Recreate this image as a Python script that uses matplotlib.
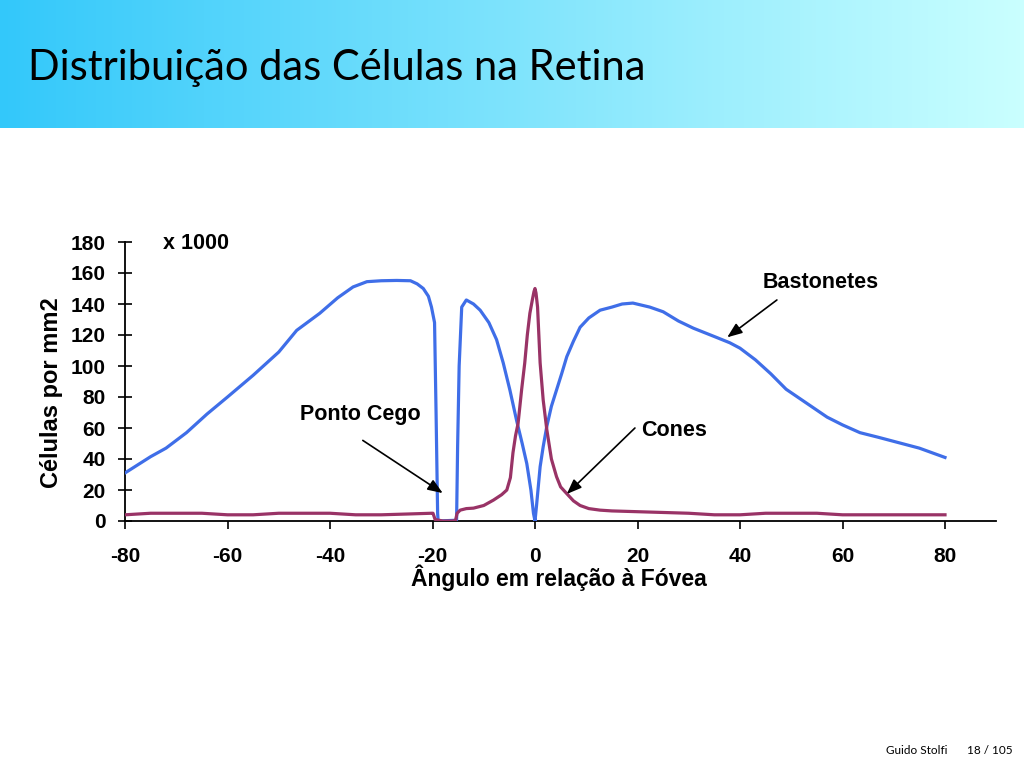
import numpy as np
import matplotlib
matplotlib.use("Agg")
import matplotlib.pyplot as plt

plt.rcParams["axes.unicode_minus"] = False

# ---- data (x 1000 cells per mm2) ----
rods_x = [-80, -75, -72, -68, -64, -60, -55, -50, -46.5, -42, -38.5, -35.5, -32.8, -30, -27,
          -24.3, -23, -21.8, -20.8, -20.2, -19.6, -19.3, -19.0, -18.9, -15.3, -15.1, -14.8,
          -14.3, -13.4, -12, -10.7, -9, -7.5, -6.2, -4.9, -3.6, -2.5, -1.6, -0.8, -0.3, 0,
          0.3, 1, 1.6, 2.3, 3.2, 4.2, 5.2, 6.2, 7.5, 8.8, 10.5, 12.7, 15, 17, 19.1, 22.4,
          25, 28, 30.9, 35, 38, 40, 43, 46, 49, 53, 57, 60, 63.4, 67, 71, 75, 80]
rods_y = [31, 41.5, 47, 57, 69, 80, 94, 109, 123, 134, 144, 151, 154.4, 155, 155.2,
          155, 153, 150, 145, 138, 128, 69, 5, 0, 0.5, 48, 100,
          138, 142.6, 140, 136, 128, 117, 102, 84.5, 65, 50, 37, 20, 5, 0,
          10, 35, 48, 61, 74, 84.5, 95, 106, 116, 125, 131, 136, 138, 140, 140.6, 138,
          135, 129, 124.4, 119, 115, 111.5, 104, 95, 85, 76, 67, 62, 57, 54, 50.5, 47, 41]

cones_x = [-80, -75, -70, -65, -60, -55, -50, -45, -40, -35, -30, -25, -20.2, -19.9, -19.5,
           -18, -16, -15.5, -15.2, -14.6, -13.4, -12, -10, -8.1, -6.5, -5.5, -4.8, -4.3,
           -3.8, -3.3, -2.6, -2, -1.5, -1, -0.5, -0.2, 0, 0.2, 0.5, 1, 1.6, 2.3, 3.2, 4.2,
           5, 6.1, 7.5, 8.8, 10.5, 12.7, 15, 20, 25, 30, 35, 40, 45, 50, 55, 60, 65, 70,
           75, 80]
cones_y = [4, 5, 5, 5, 4, 4, 5, 5, 5, 4, 4, 4.5, 5, 5, 1,
           0, 0, 0.5, 5, 7, 8, 8.3, 10, 13.5, 17, 20, 28, 44,
           55, 63, 85, 102, 120, 134, 143, 148, 150, 147, 138, 102, 78, 59, 40, 28.6,
           22, 18, 13, 10, 8, 7, 6.5, 6, 5.5, 5, 4, 4, 5, 5, 5, 4, 4, 4,
           4, 4]

x_ticks = [-80, -60, -40, -20, 0, 20, 40, 60, 80]
y_ticks = [0, 20, 40, 60, 80, 100, 120, 140, 160, 180]

ROD_COLOR = "#3f6ee8"
CONE_COLOR = "#993366"
FONT = "Liberation Sans"

fig = plt.figure(figsize=(10.24, 7.68), dpi=100)
fig.patch.set_facecolor("white")

# ---- header band with gradient ----
hax = fig.add_axes([0, 1 - 128 / 768, 1, 128 / 768])
grad = np.linspace(0, 1, 256)
c0 = np.array([0x33, 0xC8, 0xFA]) / 255
c1 = np.array([0xCA, 0xFF, 0xFF]) / 255
img = c0[None, None, :] * (1 - grad[None, :, None]) + c1[None, None, :] * grad[None, :, None]
hax.imshow(img, aspect="auto", extent=[0, 1, 0, 1])
hax.set_axis_off()
hax.text(28 / 1024, 0.47, "Distribuição das Células na Retina", fontsize=30,
         family="Lato", color="black", va="center", ha="left", transform=hax.transAxes)

# ---- main chart ----
ax = fig.add_axes([125 / 1024, 1 - 521 / 768, 871.25 / 1024, 279 / 768])
ax.plot(rods_x, rods_y, color=ROD_COLOR, lw=2.3, solid_joinstyle="round", zorder=3)
ax.plot(cones_x, cones_y, color=CONE_COLOR, lw=2.3, solid_joinstyle="round", zorder=3)

ax.set_xlim(-80, 90)
ax.set_ylim(0, 180)
ax.set_xticks(x_ticks)
ax.set_yticks(y_ticks)
for s in ["top", "right"]:
    ax.spines[s].set_visible(False)
for s in ["left", "bottom"]:
    ax.spines[s].set_linewidth(1.3)
ax.tick_params(axis="y", direction="inout", length=10, width=1.2, pad=9)
ax.tick_params(axis="x", direction="out", length=6, width=1.2, pad=13)
for lab in ax.get_xticklabels() + ax.get_yticklabels():
    lab.set_family(FONT)
    lab.set_fontweight("bold")
    lab.set_fontsize(15)

ax.set_ylabel("Células por mm2", family=FONT, fontweight="bold", fontsize=17)
ax.yaxis.set_label_coords(-(125 - 52) / 871.25, (521 - 393) / 279, transform=ax.transAxes)
ax.yaxis.label.set_va("center")
ax.set_xlabel("Ângulo em relação à Fóvea", family=FONT, fontweight="bold", fontsize=16.5)
ax.xaxis.set_label_coords((559 - 125) / 871.25, -(578 - 521) / 279, transform=ax.transAxes)
ax.xaxis.label.set_va("center")

txt = dict(family=FONT, fontweight="bold", fontsize=15.5, color="black", va="center")
ax.text(-72.6, 179, "x 1000", ha="left", **txt)
ax.text(44.5, 154, "Bastonetes", ha="left", **txt)
ax.text(20.7, 58.7, "Cones", ha="left", **txt)
ax.text(-45.9, 68.4, "Ponto Cego", ha="left", **txt)

arrow = dict(arrowstyle="-|>,head_length=0.9,head_width=0.35", color="black", lw=1.2,
             shrinkA=0, shrinkB=0)
ax.annotate("", xy=(37.5, 118.5), xytext=(47.2, 142.6), arrowprops=arrow)
ax.annotate("", xy=(6.2, 17.4), xytext=(19.5, 60), arrowprops=arrow)
ax.annotate("", xy=(-18.0, 18), xytext=(-33.6, 52), arrowprops=arrow)

# ---- footer ----
fig.text(886 / 1024, 1 - 750 / 768, "Guido Stolfi", family="Lato", fontsize=8.5,
         color="black", va="center", ha="left")
fig.text(1013 / 1024, 1 - 750 / 768, "18 / 105", family="Lato", fontsize=8.5,
         color="black", va="center", ha="right")

fig.savefig("out.png", dpi=100, facecolor="white")
